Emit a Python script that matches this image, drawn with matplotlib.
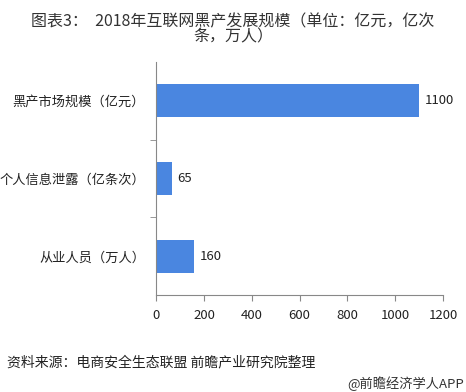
import matplotlib.pyplot as plt
import numpy as np

plt.rcParams['font.family'] = ['Noto Sans CJK SC', 'DejaVu Sans']

categories = ["黑产市场规模（亿元）", "个人信息泄露（亿条次）", "从业人员（万人）"]
values = [1100, 65, 160]
xticks = [0, 200, 400, 600, 800, 1000, 1200]

fig = plt.figure(figsize=(4.66, 3.92), dpi=100)
ax = fig.add_axes([0.335, 0.247, 0.616, 0.595])

y = np.arange(len(categories))[::-1]
ax.barh(y, values, height=0.42, color="#4a86e0")
for yi, v in zip(y, values):
    ax.text(v + 22, yi, str(v), va="center", ha="left", fontsize=9.5, color="#222222")

ax.set_xlim(0, 1200)
ax.set_ylim(-0.5, 2.5)
ax.set_xticks(xticks)
ax.set_xticklabels([str(t) for t in xticks], fontsize=9.5, color="#222222")
ax.set_yticks(y)
ax.set_yticklabels(categories, fontsize=9.5, color="#222222")
ax.set_yticks([0.5, 1.5], minor=True)
ax.tick_params(axis="y", which="major", length=0, pad=8)
ax.tick_params(axis="y", which="minor", length=4, color="#888888", direction="out")
ax.tick_params(axis="x", length=4, color="#888888", pad=6)
for s in ["top", "right"]:
    ax.spines[s].set_visible(False)
for s in ["left", "bottom"]:
    ax.spines[s].set_color("#888888")

fig.text(0.5, 0.965, "图表3：  2018年互联网黑产发展规模（单位：亿元，亿次\n条，万人）",
         ha="center", va="top", fontsize=11.5, color="#333333", linespacing=0.85)
fig.text(0.015, 0.075, "资料来源：电商安全生态联盟 前瞻产业研究院整理",
         ha="left", va="center", fontsize=10, style="italic", color="#222222")
fig.text(0.995, 0.022, "@前瞻经济学人APP", ha="right", va="center",
         fontsize=9.5, color="#333333")

fig.savefig("out.png", dpi=100)
